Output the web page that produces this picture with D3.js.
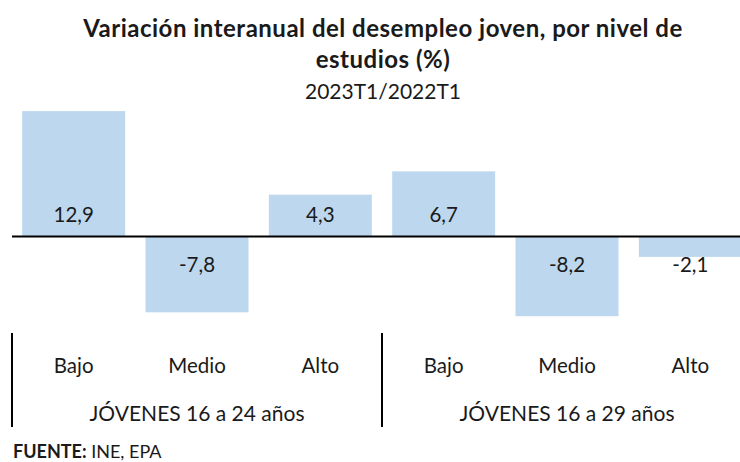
<!DOCTYPE html>
<html>
<head>
<meta charset="utf-8">
<script src="https://cdn.jsdelivr.net/npm/d3@7"></script>
<style>
  html, body { margin: 0; padding: 0; background: #fff; }
  svg { display: block; font-family: Lato, "Open Sans", sans-serif; }
</style>
</head>
<body>
<svg id="chart" width="740" height="462"></svg>
<script>
// Chart data
const levels = ['Bajo', 'Medio', 'Alto', 'Bajo', 'Medio', 'Alto'];
const groups = ['JÓVENES 16 a 24 años', 'JÓVENES 16 a 29 años'];
const values = [12.9, -7.8, 4.3, 6.7, -8.2, -2.1];

const svg = d3.select('#chart');

// Spanish number format (decimal comma)
const es = d3.formatLocale({ decimal: ',', thousands: '.', grouping: [3], currency: ['', '€'], minus: '-' });
const fmt = es.format('.1f');

// Scales
const x = d3.scaleBand()
    .domain(d3.range(values.length))
    .range([12, 752])
    .paddingInner(0.165)
    .paddingOuter(0.0825);

const y = d3.scaleLinear()
    .domain([-10, 14])
    .range([333.7, 100.4]);

// Title
svg.append('text')
    .attr('x', 383).attr('y', 37)
    .attr('text-anchor', 'middle')
    .attr('font-weight', 'bold')
    .attr('font-size', 24)
    .attr('letter-spacing', 0.5)
    .attr('fill', '#1a1a1a')
    .text('Variación interanual del desempleo joven, por nivel de');
svg.append('text')
    .attr('x', 383).attr('y', 68)
    .attr('text-anchor', 'middle')
    .attr('font-weight', 'bold')
    .attr('font-size', 24)
    .attr('letter-spacing', 0.5)
    .attr('fill', '#1a1a1a')
    .text('estudios (%)');
svg.append('text')
    .attr('x', 383).attr('y', 99)
    .attr('text-anchor', 'middle')
    .attr('font-size', 21)
    .attr('fill', '#1a1a1a')
    .text('2023T1/2022T1');

// Bars
svg.append('g')
    .selectAll('rect')
    .data(values)
    .join('rect')
    .attr('x', (d, i) => x(i))
    .attr('width', x.bandwidth())
    .attr('y', d => y(Math.max(0, d)))
    .attr('height', d => Math.abs(y(d) - y(0)))
    .attr('fill', '#bdd7ee');

// Zero line
svg.append('line')
    .attr('x1', 12).attr('x2', 740)
    .attr('y1', y(0)).attr('y2', y(0))
    .attr('stroke', '#000')
    .attr('stroke-width', 2.2);

// Value labels (near the base of each bar)
svg.append('g')
    .selectAll('text')
    .data(values)
    .join('text')
    .attr('x', (d, i) => x(i) + x.bandwidth() / 2)
    .attr('y', d => d >= 0 ? y(0) - 14 : y(0) + 36)
    .attr('text-anchor', 'middle')
    .attr('font-size', 20.5)
    .attr('fill', '#1a1a1a')
    .text(d => fmt(d));

// Category labels
svg.append('g')
    .selectAll('text')
    .data(levels)
    .join('text')
    .attr('x', (d, i) => x(i) + x.bandwidth() / 2)
    .attr('y', 373)
    .attr('text-anchor', 'middle')
    .attr('font-size', 20.5)
    .attr('fill', '#1a1a1a')
    .text(d => d);

// Group labels and separators
const per = levels.length / groups.length;
svg.append('g')
    .selectAll('text')
    .data(groups)
    .join('text')
    .attr('x', (d, i) => x.range()[0] + x.step() * (i * per + per / 2))
    .attr('y', 421)
    .attr('text-anchor', 'middle')
    .attr('font-size', 21)
    .attr('fill', '#1a1a1a')
    .text(d => d);

svg.append('g')
    .selectAll('line')
    .data(groups)
    .join('line')
    .attr('x1', (d, i) => x.range()[0] + x.step() * i * per)
    .attr('x2', (d, i) => x.range()[0] + x.step() * i * per)
    .attr('y1', 333).attr('y2', 427)
    .attr('stroke', '#000')
    .attr('stroke-width', 2);

// Source
const src = svg.append('text')
    .attr('x', 13).attr('y', 458)
    .attr('font-size', 18)
    .attr('fill', '#1a1a1a');
src.append('tspan').attr('font-weight', 'bold').text('FUENTE:');
src.append('tspan').text(' INE, EPA');
</script>
</body>
</html>
